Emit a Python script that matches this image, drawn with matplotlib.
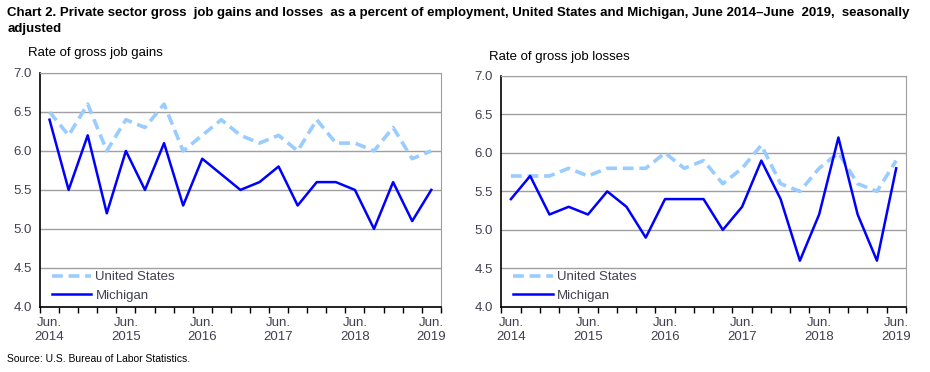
#!/usr/bin/env python3
"""Gross job gains and losses, United States and Michigan, June 2014 - June 2019."""

import matplotlib.pyplot as plt

plt.rcParams["font.family"] = ["Liberation Sans", "DejaVu Sans"]

quarters = list(range(21))
year_labels = ["Jun.\n2014", "Jun.\n2015", "Jun.\n2016", "Jun.\n2017", "Jun.\n2018", "Jun.\n2019"]

gains_us = [6.5, 6.2, 6.6, 6.0, 6.4, 6.3, 6.6, 6.0, 6.2, 6.4, 6.2, 6.1, 6.2, 6.0, 6.4, 6.1, 6.1, 6.0, 6.3, 5.9, 6.0]
gains_mi = [6.4, 5.5, 6.2, 5.2, 6.0, 5.5, 6.1, 5.3, 5.9, 5.7, 5.5, 5.6, 5.8, 5.3, 5.6, 5.6, 5.5, 5.0, 5.6, 5.1, 5.5]

losses_us = [5.7, 5.7, 5.7, 5.8, 5.7, 5.8, 5.8, 5.8, 6.0, 5.8, 5.9, 5.6, 5.8, 6.1, 5.6, 5.5, 5.8, 6.0, 5.6, 5.5, 5.9]
losses_mi = [5.4, 5.7, 5.2, 5.3, 5.2, 5.5, 5.3, 4.9, 5.4, 5.4, 5.4, 5.0, 5.3, 5.9, 5.4, 4.6, 5.2, 6.2, 5.2, 4.6, 5.8]

US_COLOR = "#99ccff"
MI_COLOR = "#0000ff"
TICK_COLOR = "#404050"


def draw_panel(ax, us, mi, ylabel, ylabel_y):
    ax.plot(quarters, us, color=US_COLOR, lw=2.6, dashes=(3, 1.6), label="United States")
    ax.plot(quarters, mi, color=MI_COLOR, lw=1.8, label="Michigan")

    ax.set_xlim(-0.5, 20.5)
    ax.set_ylim(4.0, 7.0)
    ax.set_yticks([4.0, 4.5, 5.0, 5.5, 6.0, 6.5, 7.0])
    ax.set_yticklabels([f"{v:.1f}" for v in ax.get_yticks()])
    ax.yaxis.grid(True, color="#a0a0a0", lw=1)
    ax.set_axisbelow(True)
    ax.tick_params(axis="y", length=0, pad=6, labelsize=9.5, labelcolor=TICK_COLOR)

    # category boundaries get the tick marks, labels sit under the June points
    ax.set_xticks([q + 0.5 for q in range(-1, 21)], minor=True)
    ax.set_xticks(quarters[::4])
    ax.set_xticklabels(year_labels, multialignment="center", linespacing=1.3)
    ax.tick_params(axis="x", which="major", length=0, pad=7, labelsize=9.5, labelcolor=TICK_COLOR)
    ax.tick_params(axis="x", which="minor", length=4, width=1, color="black")

    for side in ("top", "right"):
        ax.spines[side].set_color("#a0a0a0")
    for side in ("left", "bottom"):
        ax.spines[side].set_color("black")
        ax.spines[side].set_linewidth(1.2)

    ax.legend(loc="lower left", bbox_to_anchor=(0.0, -0.03), frameon=False, fontsize=9.5,
              handlelength=3.0, handletextpad=0.3, labelspacing=0.5,
              labelcolor=TICK_COLOR)
    ax.text(-0.03, ylabel_y, ylabel, transform=ax.transAxes, fontsize=9.5, va="bottom", ha="left")


fig = plt.figure(figsize=(9.3, 3.72), dpi=100)
ax1 = fig.add_axes([0.043, 0.175, 0.431, 0.629])
ax2 = fig.add_axes([0.539, 0.175, 0.435, 0.621])

draw_panel(ax1, gains_us, gains_mi, "Rate of gross job gains", 1.06)
draw_panel(ax2, losses_us, losses_mi, "Rate of gross job losses", 1.055)

fig.text(0.008, 0.98,
         "Chart 2. Private sector gross  job gains and losses  as a percent of employment, "
         "United States and Michigan, June 2014\u2013June  2019,  seasonally\nadjusted",
         fontsize=9.5, fontweight="bold", va="top", ha="left", linespacing=1.45)
fig.text(0.008, 0.035, "Source: U.S. Bureau of Labor Statistics.", fontsize=7.5, ha="left", va="center")

fig.savefig("out.png", dpi=100)
